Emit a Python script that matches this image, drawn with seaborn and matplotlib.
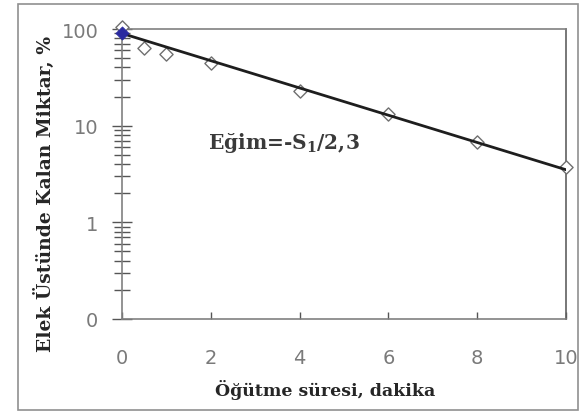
import matplotlib
matplotlib.use("Agg")
import matplotlib.pyplot as plt
import seaborn as sns
import pandas as pd
import numpy as np
from matplotlib.ticker import FixedLocator, FixedFormatter, LogLocator, NullFormatter
from matplotlib.patches import Rectangle

# data
time_min = [0, 0.5, 1, 2, 4, 6, 8, 10]
residue_pct = [104, 63, 55, 44, 23, 13.3, 6.8, 3.7]
fit_time = [0, 10]
fit_residue = [90, 3.5]
start_point_time = [0]
start_point_residue = [90]
ytick_values = [0.1, 1, 10, 100]
ytick_labels = ["0", "1", "10", "100"]
xtick_values = [0, 2, 4, 6, 8, 10]

sns.set_style("white")
plt.rcParams["mathtext.fontset"] = "custom"
plt.rcParams["mathtext.rm"] = "DejaVu Serif:bold"
plt.rcParams["mathtext.it"] = "DejaVu Serif:bold"
plt.rcParams["mathtext.bf"] = "DejaVu Serif:bold"

fig = plt.figure(figsize=(5.81, 4.14), dpi=100)
ax = fig.add_axes([122/581, 1-320/414, (566-122)/581, (320-30)/414])

df_pts = pd.DataFrame({"t": time_min, "r": residue_pct})
df_fit = pd.DataFrame({"t": fit_time, "r": fit_residue})
df_start = pd.DataFrame({"t": start_point_time, "r": start_point_residue})

ax.set_yscale("log")
sns.scatterplot(data=df_pts, x="t", y="r", marker="D", s=45, facecolor="white",
                edgecolor="#707070", linewidth=1.0, ax=ax, zorder=3, clip_on=False)
sns.lineplot(data=df_fit, x="t", y="r", color="#1e1e1e", linewidth=2.0, ax=ax, zorder=4)
sns.scatterplot(data=df_start, x="t", y="r", marker="D", s=45, color="#2a2aa0",
                edgecolor="#2a2aa0", ax=ax, zorder=5, clip_on=False)

ax.set_xlim(0, 10)
ax.set_ylim(0.1, 100)
ax.yaxis.set_major_locator(FixedLocator(ytick_values))
ax.yaxis.set_major_formatter(FixedFormatter(ytick_labels))
ax.yaxis.set_minor_locator(LogLocator(base=10, subs=np.arange(2, 10)))
ax.yaxis.set_minor_formatter(NullFormatter())
ax.set_xticks(xtick_values)
ax.set_xticklabels([str(v) for v in xtick_values])

ax.tick_params(axis="y", which="major", direction="inout", length=14, width=1, color="#555555",
               labelsize=14, labelcolor="#7a7a7a", pad=10, left=True)
ax.tick_params(axis="y", which="minor", direction="inout", length=12, width=1, color="#555555", left=True)
ax.tick_params(axis="x", which="major", direction="in", length=5, width=1, color="#555555",
               labelsize=14, labelcolor="#7a7a7a", pad=21, bottom=True)
for lab in ax.get_xticklabels() + ax.get_yticklabels():
    lab.set_family("DejaVu Sans")

for side in ["left", "bottom", "right", "top"]:
    ax.spines[side].set_color("#808080")
    ax.spines[side].set_linewidth(1.2)
ax.spines["right"].set_color("#606060")

ax.set_xlabel("Öğütme süresi, dakika", fontsize=12.5, fontweight="bold",
              family="DejaVu Serif", va="center")
ax.xaxis.set_label_coords((325-122)/444, (320-390)/290)
ax.set_ylabel("Elek Üstünde Kalan Miktar, %", fontsize=13.5, fontweight="bold",
              family="DejaVu Serif", va="center")
ax.yaxis.set_label_coords((44-122)/444, (320-194)/290)

ax.text(1.94, 5.87, r"Eğim=-S$_\mathbf{1}$/2,3", fontsize=14.5, fontweight="bold",
        family="DejaVu Serif", color="#3a3a3a", va="baseline", ha="left")

fig.patches.append(Rectangle((18/581, 1-411/414), (578-18)/581, (411-5)/414,
                             transform=fig.transFigure, fill=False,
                             edgecolor="#909090", linewidth=1.2))

fig.savefig("out.png", dpi=100)
